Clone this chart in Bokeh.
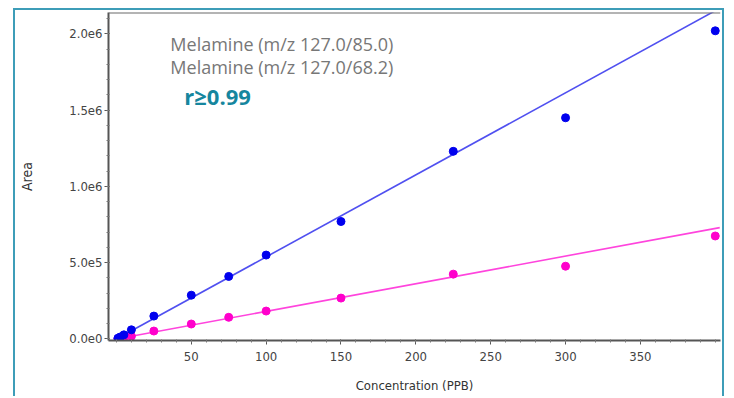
from bokeh.plotting import figure
from bokeh.models import Range1d, Label, Span, FixedTicker
from bokeh.embed import file_html
from bokeh.resources import INLINE

# ---- data ----
conc = [1, 2.5, 5, 10, 25, 50, 75, 100, 150, 225, 300, 400]
area_85 = [5e3, 1.3e4, 2.7e4, 6.0e4, 1.5e5, 2.87e5, 4.1e5, 5.5e5, 7.7e5, 1.23e6, 1.45e6, 2.02e6]
area_68 = [1.8e3, 4.5e3, 9e3, 1.8e4, 5.2e4, 9.8e4, 1.42e5, 1.83e5, 2.68e5, 4.25e5, 4.77e5, 6.75e5]
fit_x = [0, 403]
fit_85 = [0, 2.168e6]
fit_68 = [0, 7.30e5]
x_ticks = [50, 100, 150, 200, 250, 300, 350]
y_ticks = [0, 5e5, 1e6, 1.5e6, 2e6]
y_tick_labels = ["0.0e0", "5.0e5", "1.0e6", "1.5e6", "2.0e6"]
legend_1 = "Melamine (m/z 127.0/85.0)"
legend_2 = "Melamine (m/z 127.0/68.2)"
r_text = "r≥0.99"

TEAL = "#3d9db8"
AX_FONT = "DejaVu Sans Condensed"

p = figure(width=711, height=388, output_backend="svg", toolbar_location=None,
           x_range=Range1d(-5.3, 403.5), y_range=Range1d(-1.0e4, 2.14e6),
           min_border_left=93, min_border_right=6, min_border_top=2, min_border_bottom=58)
p.styles = {"margin-left": "13px", "margin-top": "8px", "border-top": f"2px solid {TEAL}",
            "border-left": f"2px solid {TEAL}", "border-right": f"2px solid {TEAL}"}
p.outline_line_color = None
p.grid.visible = False
p.background_fill_color = "white"
p.border_fill_color = "white"

p.xaxis.ticker = FixedTicker(ticks=x_ticks, minor_ticks=[v for v in range(0, 401, 10)])
p.yaxis.ticker = FixedTicker(ticks=y_ticks, minor_ticks=[v * 1e5 for v in range(0, 22)])
p.yaxis.major_label_overrides = {v: s for v, s in zip(y_ticks, y_tick_labels)}

for ax in (p.xaxis, p.yaxis):
    ax.axis_line_color = "#555555"
    ax.axis_line_width = 2
    ax.major_tick_line_color = "#555555"
    ax.minor_tick_line_color = "#777777"
    ax.major_tick_out = 4
    ax.major_tick_in = 1
    ax.minor_tick_out = 2
    ax.minor_tick_in = 1
    ax.major_label_text_font = AX_FONT
    ax.major_label_text_font_size = "13px"
    ax.major_label_text_color = "#444444"
    ax.axis_label_text_font = AX_FONT
    ax.axis_label_text_font_style = "normal"
    ax.axis_label_text_color = "#333333"

p.xaxis.axis_label = "Concentration (PPB)"
p.xaxis.axis_label_text_font_size = "13px"
p.xaxis.major_label_standoff = 7
p.xaxis.axis_label_standoff = 14
p.yaxis.axis_label = "Area"
p.yaxis.axis_label_text_font_size = "14px"
p.yaxis.major_label_standoff = 2
p.yaxis.axis_label_standoff = 31

p.add_layout(Span(location=2.14e6, dimension="width", line_color="#6a6a6a", line_width=2))

p.line(fit_x, fit_68, line_color="#ff44dd", line_width=1.6)
p.line(fit_x, fit_85, line_color="#5050f0", line_width=1.6)
p.scatter(conc, area_68, size=8, fill_color="#ff00cc", line_color="#ff00cc")
p.scatter(conc, area_85, size=8, fill_color="#0000ee", line_color="#0000ee")

p.add_layout(Label(x=36, y=1.931e6, text=legend_1, text_font="Open Sans",
                   text_font_size="18px", text_color="#777777", text_baseline="middle"))
p.add_layout(Label(x=36, y=1.784e6, text=legend_2, text_font="Open Sans",
                   text_font_size="18px", text_color="#777777", text_baseline="middle"))
p.add_layout(Label(x=45.3, y=1.595e6, text=r_text, text_font="Open Sans",
                   text_font_size="22px", text_font_style="bold", text_color="#16869e",
                   text_baseline="middle"))

open("out.html", "w").write(file_html(p, INLINE))
